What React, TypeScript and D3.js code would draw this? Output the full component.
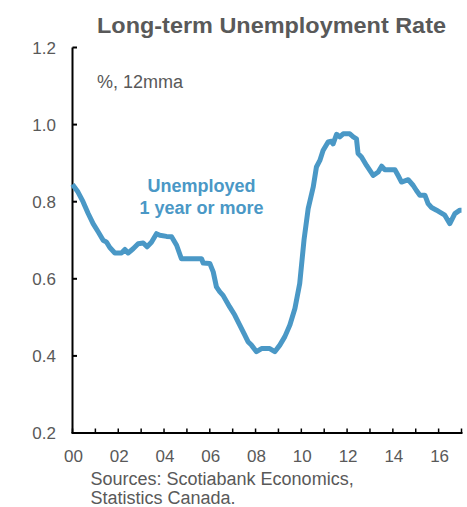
import React from "react";
import * as d3 from "d3";

const dates = [
  2000.0, 2000.24, 2000.46, 2000.68, 2000.9, 2001.12, 2001.34, 2001.49, 2001.63, 2001.85,
  2002.14, 2002.29, 2002.43, 2002.65, 2002.87, 2003.09, 2003.26, 2003.45, 2003.67, 2003.82,
  2004.11, 2004.33, 2004.55, 2004.76, 2005.27, 2005.64, 2005.71, 2006.0, 2006.15, 2006.29,
  2006.44, 2006.58, 2006.87, 2007.09, 2007.31, 2007.53, 2007.67, 2007.82, 2008.04, 2008.26,
  2008.62, 2008.84, 2009.06, 2009.28, 2009.5, 2009.72, 2009.93, 2010.12, 2010.3, 2010.52,
  2010.66, 2010.81, 2010.95, 2011.17, 2011.32, 2011.39, 2011.54, 2011.68, 2011.83, 2012.12,
  2012.27, 2012.41, 2012.48, 2012.63, 2012.85, 2013.14, 2013.36, 2013.51, 2013.65, 2014.09,
  2014.23, 2014.38, 2014.67, 2014.89, 2015.03, 2015.18, 2015.4, 2015.54, 2015.69, 2015.91,
  2016.05, 2016.27, 2016.49, 2016.71, 2016.93, 2017.0,
];

const values = [
  0.845, 0.825, 0.8, 0.77, 0.743, 0.722, 0.7, 0.695, 0.681, 0.667,
  0.667, 0.676, 0.667, 0.678, 0.691, 0.693, 0.683, 0.695, 0.717, 0.713,
  0.71, 0.709, 0.687, 0.652, 0.652, 0.652, 0.641, 0.64, 0.618, 0.579,
  0.566, 0.557, 0.527, 0.506, 0.48, 0.454, 0.437, 0.428, 0.411, 0.419,
  0.419, 0.411, 0.428, 0.45, 0.48, 0.523, 0.588, 0.702, 0.782, 0.838,
  0.89, 0.907, 0.933, 0.955, 0.957, 0.95, 0.975, 0.968, 0.976, 0.976,
  0.968, 0.963, 0.925, 0.916, 0.894, 0.868, 0.877, 0.892, 0.883, 0.883,
  0.868, 0.851, 0.857, 0.842, 0.829, 0.817, 0.817, 0.795, 0.785, 0.778,
  0.773, 0.765, 0.743, 0.769, 0.778, 0.778,
];

const yTicks = [0.2, 0.4, 0.6, 0.8, 1.0, 1.2];
const xTickYears = d3.range(2000, 2018);
const xLabelYears = [2000, 2002, 2004, 2006, 2008, 2010, 2012, 2014, 2016];

const title = "Long-term Unemployment Rate";
const unitLabel = "%, 12mma";
const seriesLabel = ["Unemployed", "1 year or more"];
const sources = ["Sources: Scotiabank Economics,", "Statistics Canada."];

const W = 467;
const H = 507;
const LINE_COLOR = "#4a98c6";
const TEXT_COLOR = "#595959";
const FONT = "'Liberation Sans', Arial, sans-serif";

export default function App() {
  const x = d3.scaleLinear().domain([2000, 2017]).range([72.5, 461.5]);
  const y = d3.scaleLinear().domain([0.2, 1.2]).range([433, 47.5]);
  const data = dates.map((d, i) => [d, values[i]] as [number, number]);
  const line = d3
    .line<[number, number]>()
    .x((d) => x(d[0]))
    .y((d) => y(d[1]));

  return (
    <svg
      width={W}
      height={H}
      style={{ position: "absolute", left: 0, top: 0, background: "#fff" }}
      fontFamily={FONT}
    >
      <rect x={0} y={0} width={W} height={H} fill="#fff" />
      <text
        x={97}
        y={32.5}
        fontSize={22.5}
        fontWeight="bold"
        fill={TEXT_COLOR}
        textLength={349}
        lengthAdjust="spacingAndGlyphs"
      >
        {title}
      </text>
      <text x={97} y={88} fontSize={18} fill={TEXT_COLOR}>
        {unitLabel}
      </text>

      {/* y axis */}
      <line x1={x(2000)} x2={x(2000)} y1={y(1.2)} y2={y(0.2)} stroke="#000" strokeWidth={2} />
      {yTicks.map((t) => (
        <g key={t}>
          <line x1={x(2000)} x2={x(2000) + 4.5} y1={y(t)} y2={y(t)} stroke="#000" strokeWidth={2} />
          <text
            x={56}
            y={y(t)}
            dy="0.36em"
            textAnchor="end"
            fontSize={17}
            fill={TEXT_COLOR}
          >
            {t.toFixed(1)}
          </text>
        </g>
      ))}

      {/* x axis */}
      <line x1={x(2000) - 1} x2={x(2017) + 1} y1={y(0.2)} y2={y(0.2)} stroke="#000" strokeWidth={2} />
      {xTickYears.map((yr) => (
        <line
          key={yr}
          x1={x(yr)}
          x2={x(yr)}
          y1={y(0.2)}
          y2={y(0.2) - 4.5}
          stroke="#000"
          strokeWidth={1.5}
        />
      ))}
      {xLabelYears.map((yr) => (
        <text
          key={yr}
          x={x(yr) + 1}
          y={462}
          textAnchor="middle"
          fontSize={17}
          fill={TEXT_COLOR}
        >
          {String(yr % 100).padStart(2, "0")}
        </text>
      ))}

      <path
        d={line(data) || ""}
        fill="none"
        stroke={LINE_COLOR}
        strokeWidth={5}
        strokeLinejoin="round"
        strokeLinecap="butt"
      />

      <text textAnchor="middle" fontSize={18} fontWeight="bold" fill={LINE_COLOR}>
        <tspan x={201.5} y={192}>
          {seriesLabel[0]}
        </tspan>
        <tspan x={201.5} y={214}>
          {seriesLabel[1]}
        </tspan>
      </text>

      <text fontSize={18} fill={TEXT_COLOR}>
        <tspan x={90.5} y={485}>
          {sources[0]}
        </tspan>
        <tspan x={90.5} y={504}>
          {sources[1]}
        </tspan>
      </text>
    </svg>
  );
}
